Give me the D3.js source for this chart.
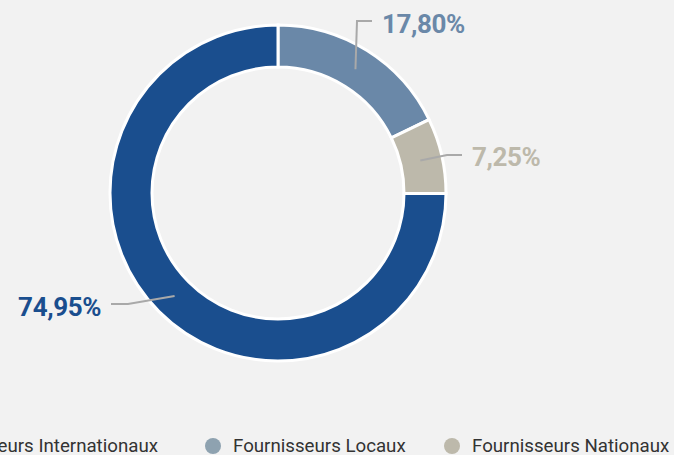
<!DOCTYPE html>
<html>
<head>
<meta charset="utf-8">
<script src="https://cdn.jsdelivr.net/npm/d3@7"></script>
<style>
  html, body { margin: 0; padding: 0; background: #f2f2f2; }
  svg { display: block; font-family: Roboto, "Noto Sans", sans-serif; }
</style>
</head>
<body>
<svg id="chart" width="674" height="455"></svg>
<script>
// Répartition des achats par type de fournisseur
const categories = ["Fournisseurs Locaux", "Fournisseurs Nationaux", "Fournisseurs Internationaux"];
const shares = [17.80, 7.25, 74.95];
const sliceColors = ["#6a88a8", "#bdb9ab", "#1a4e8e"];
const legendOrder = ["Fournisseurs Internationaux", "Fournisseurs Locaux", "Fournisseurs Nationaux"];
const legendMarkerColors = ["#1a4e8e", "#8ea2b0", "#bdb9ab"];

const svg = d3.select("#chart");
const cx = 278, cy = 193;
const rOuter = 168, rInner = 126;

const pie = d3.pie().sort(null).value(d => d)(shares);
const arc = d3.arc().innerRadius(rInner).outerRadius(rOuter);
const mid = d3.arc().innerRadius(146).outerRadius(146);

const g = svg.append("g").attr("transform", `translate(${cx},${cy})`);

g.selectAll("path.slice")
  .data(pie)
  .join("path")
  .attr("class", "slice")
  .attr("d", arc)
  .attr("fill", (d, i) => sliceColors[i])
  .attr("stroke", "#ffffff")
  .attr("stroke-width", 3)
  .attr("stroke-linejoin", "miter");

// Étiquettes de valeur avec lignes de rappel (coudes relatifs au centre)
const labelLayout = [
  { elbow: [79, -172], end: [94, -172], text: [104, -160], anchor: "start" },
  { elbow: [169, -38], end: [184, -38], text: [194, -27], anchor: "start" },
  { elbow: [-150, 111], end: [-167, 111], text: [-177, 123], anchor: "end" }
];

const fmt = v => v.toFixed(2).replace(".", ",") + "%";

pie.forEach((d, i) => {
  const [sx, sy] = mid.centroid(d);
  const L = labelLayout[i];
  g.append("polyline")
    .attr("points", [[sx, sy], L.elbow, L.end].map(p => p.join(",")).join(" "))
    .attr("fill", "none")
    .attr("stroke", "#a9a9a9")
    .attr("stroke-width", 2);
  g.append("text")
    .attr("x", L.text[0])
    .attr("y", L.text[1])
    .attr("text-anchor", L.anchor)
    .attr("font-size", 26)
    .attr("font-weight", 700)
    .attr("letter-spacing", -0.4)
    .attr("fill", sliceColors[i])
    .text(fmt(d.data));
});

// Légende (déborde à gauche) : centres des pastilles
const markerX = [null, 213, 452];
const legend = svg.append("g").attr("transform", "translate(0,446)");
legendOrder.forEach((name, i) => {
  const item = legend.append("g");
  const t = item.append("text")
    .attr("y", 6)
    .attr("font-size", 18.7)
    .attr("fill", "#333333")
    .text(name);
  const w = t.node().getComputedTextLength();
  const mx = markerX[i] !== null ? markerX[i] : 158 - w - 20;
  t.attr("x", mx + 20);
  item.append("circle").attr("cx", mx).attr("cy", 0).attr("r", 8).attr("fill", legendMarkerColors[i]);
});
</script>
</body>
</html>
